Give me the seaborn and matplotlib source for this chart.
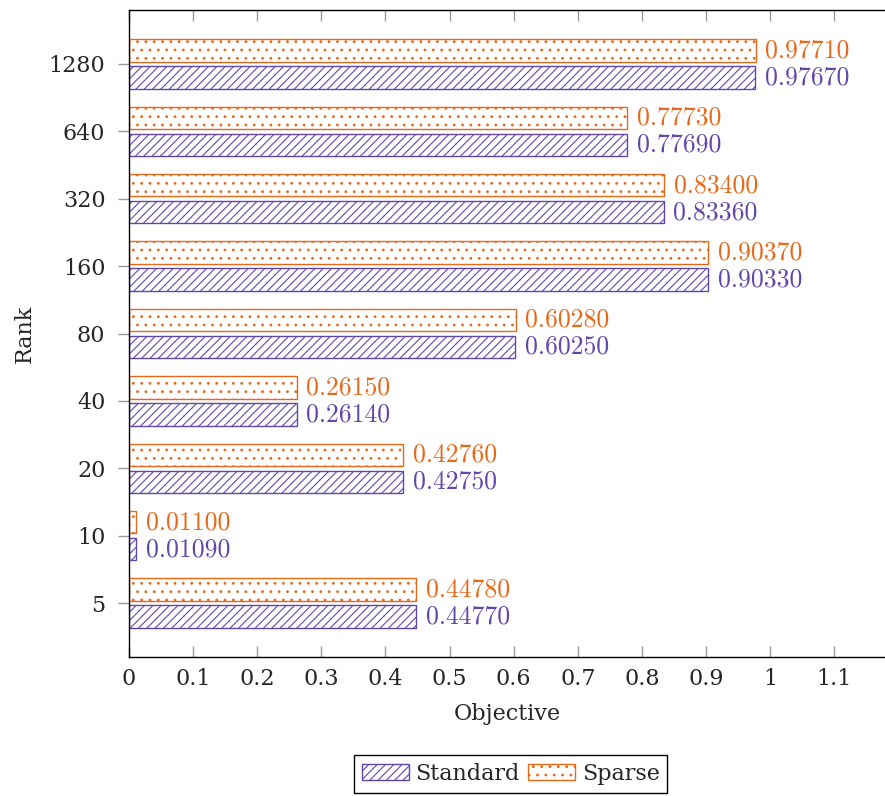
import matplotlib
matplotlib.use("Agg")
import matplotlib.pyplot as plt
from matplotlib.patches import Patch
import pandas as pd
import seaborn as sns

# Objective per rank for the two methods
ranks = ["5", "10", "20", "40", "80", "160", "320", "640", "1280"]
standard = [0.4477, 0.0109, 0.4275, 0.2614, 0.6025, 0.9033, 0.8336, 0.7769, 0.9767]
sparse = [0.4478, 0.0110, 0.4276, 0.2615, 0.6028, 0.9037, 0.8340, 0.7773, 0.9771]
methods = ["Standard", "Sparse"]
x_ticks = [0, 0.1, 0.2, 0.3, 0.4, 0.5, 0.6, 0.7, 0.8, 0.9, 1.0, 1.1]
x_tick_labels = ["0", "0.1", "0.2", "0.3", "0.4", "0.5", "0.6", "0.7", "0.8", "0.9", "1", "1.1"]

purple = "#6247AA"
orange = "#E8681A"
colors = {"Standard": purple, "Sparse": orange}
hatches = {"Standard": "////", "Sparse": ".."}

df = pd.DataFrame({
    "Rank": ranks * 2,
    "Objective": standard + sparse,
    "Method": ["Standard"] * len(ranks) + ["Sparse"] * len(ranks),
})

sns.set_style("white")
plt.rcParams["font.family"] = ["DejaVu Serif"]
plt.rcParams["hatch.linewidth"] = 0.8

fig = plt.figure(figsize=(8.85, 7.96), dpi=100)
ax = fig.add_axes([129 / 885, 1 - 657 / 796, (885 - 129) / 885, 647 / 796])

# categories listed top-down (seaborn inverts the categorical y axis)
order = ranks[::-1]
hue_order = ["Sparse", "Standard"]
sns.barplot(data=df, y="Rank", x="Objective", hue="Method", order=order,
            hue_order=hue_order, palette=colors, orient="h", width=0.8,
            gap=0.17, ax=ax, legend=False)

for cont, method in zip(ax.containers, hue_order):
    c = colors[method]
    for bar in cont:
        bar.set_facecolor("white")
        bar.set_edgecolor(c)
        bar.set_linewidth(1.0)
        bar.set_hatch(hatches[method])
    ax.bar_label(cont, labels=[f"{v:.5f}" for v in cont.datavalues],
                 padding=7, color=c, fontfamily="cmr10", fontsize=18.5)

ax.set_xlim(0, 1.179)
ax.set_ylim(8.8, -0.8)
ax.set_xticks(x_ticks)
ax.set_xticklabels(x_tick_labels)

ax.tick_params(axis="x", direction="in", length=8, width=1, color="#999999",
               pad=8, labelsize=16, top=True, bottom=True)
ax.tick_params(axis="y", direction="out", length=8, width=1, color="#999999",
               pad=9, labelsize=16, left=True, right=False)

for side in ["left", "bottom", "top"]:
    ax.spines[side].set_color("black")
    ax.spines[side].set_linewidth(1.0)
ax.spines["right"].set_visible(False)

ax.set_xlabel("Objective", fontsize=16)
ax.set_ylabel("Rank", fontsize=16)
ax.xaxis.set_label_coords(0.5, -0.088)
ax.xaxis.label.set_va("center")
ax.yaxis.set_label_coords(-0.1376, 0.5)
ax.yaxis.label.set_va("center")

handles = [Patch(facecolor="white", edgecolor=colors[m], hatch=hatches[m], linewidth=1.0)
           for m in methods]
leg = ax.legend(handles, methods, loc="upper center", bbox_to_anchor=(0.505, -0.1515),
                ncol=2, fontsize=16, frameon=True, fancybox=False, framealpha=1,
                edgecolor="black", handlelength=2.1, handleheight=0.7,
                handletextpad=0.3, columnspacing=0.4, borderpad=0.35,
                borderaxespad=0)
leg.get_frame().set_linewidth(1.0)

fig.savefig("out.png", dpi=100)
